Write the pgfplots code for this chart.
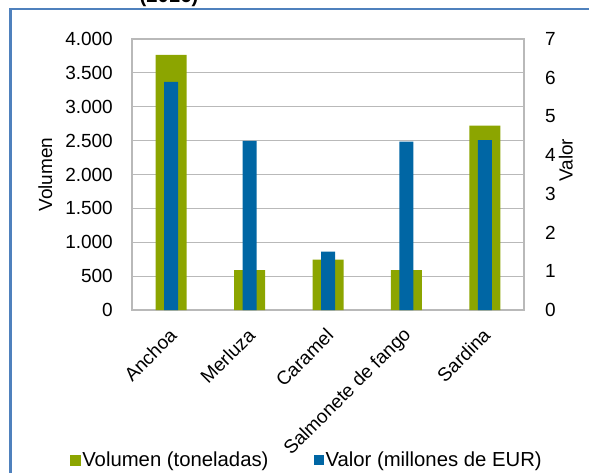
\documentclass[border=0pt]{standalone}
\usepackage{fontspec}
\setmainfont{Liberation Sans}
\usepackage{pgfplots}
\pgfplotsset{compat=1.18}
\definecolor{vgreen}{RGB}{140,165,0}
\definecolor{vblue}{RGB}{0,102,164}
\definecolor{gridgray}{RGB}{185,185,185}
\definecolor{frameblue}{RGB}{79,129,189}
\newcommand\ff{\fontsize{19pt}{22pt}\selectfont}
\newcommand\lf{\fontsize{20.3pt}{23pt}\selectfont}
\begin{document}
\begin{tikzpicture}[x=1pt,y=1pt]
\path[use as bounding box] (0,0) rectangle (589,472);
\draw[frameblue, line width=2.5pt] (10.5,-10) -- (10.5,463) -- (600,463);
\node[font=\lf\bfseries, anchor=base] at (169,469) {(2016)};
\begin{axis}[
  at={(132pt,162pt)}, anchor=south west,
  scale only axis, width=392pt, height=271pt,
  xmin=-0.5, xmax=4.5, ymin=0, ymax=4000,
  xtick={0,1,2,3,4},
  xticklabels={Anchoa,Merluza,Caramel,Salmonete de fango,Sardina},
  ytick={0,500,...,4000},
  yticklabels={0,500,1.000,1.500,2.000,2.500,3.000,3.500,4.000},
  ymajorgrids, grid style={gridgray, line width=1.2pt},
  axis line style={gridgray, line width=1.2pt},
  major tick length=0pt,
  tick label style={font=\ff},
  /pgf/number format/assume math mode=true,
  yticklabel style={anchor=east, inner sep=0pt, xshift=-19pt},
  xticklabel style={inner sep=0pt, yshift=-22pt, xshift=2pt, rotate=45, anchor=east},
  ylabel={Volumen}, label style={font=\ff},
  ylabel style={at={(axis description cs:-0.221,0.5)}, anchor=center},
]
\addplot[ybar, bar width=31pt, bar shift=0pt, fill=vgreen, draw=none] coordinates {(0,3764) (1,590) (2,742) (3,590) (4,2720)};
\end{axis}
\begin{axis}[
  at={(132pt,162pt)}, anchor=south west,
  scale only axis, width=392pt, height=271pt,
  xmin=-0.5, xmax=4.5, ymin=0, ymax=7,
  axis x line=none, axis y line*=right,
  ytick={0,1,...,7},
  axis line style={gridgray, line width=1.2pt},
  major tick length=0pt,
  tick label style={font=\ff},
  /pgf/number format/assume math mode=true,
  yticklabel style={anchor=west, inner sep=0pt, xshift=21pt},
  ylabel={Valor}, label style={font=\ff},
  ylabel style={at={(axis description cs:1.107,0.553)}, anchor=center},
  legend columns=2,
  legend style={at={(0.446,-0.553)}, anchor=center, draw=none, fill=none, font=\lf,
    nodes={inner sep=1.5pt},
    /tikz/every even column/.append style={column sep=44pt}},
]
\addlegendimage{legend image code/.code={\fill[vgreen] (0pt,-5pt) rectangle (10pt,5pt);}}
\addlegendentry{Volumen (toneladas)}
\addplot[ybar, bar width=14pt, bar shift=0pt, fill=vblue, draw=none,
  legend image code/.code={\fill[vblue] (0pt,-5pt) rectangle (10pt,5pt);}]
  coordinates {(0,5.89) (1,4.37) (2,1.51) (3,4.35) (4,4.39)};
\addlegendentry{Valor (millones de EUR)}
\end{axis}
\end{tikzpicture}
\end{document}
